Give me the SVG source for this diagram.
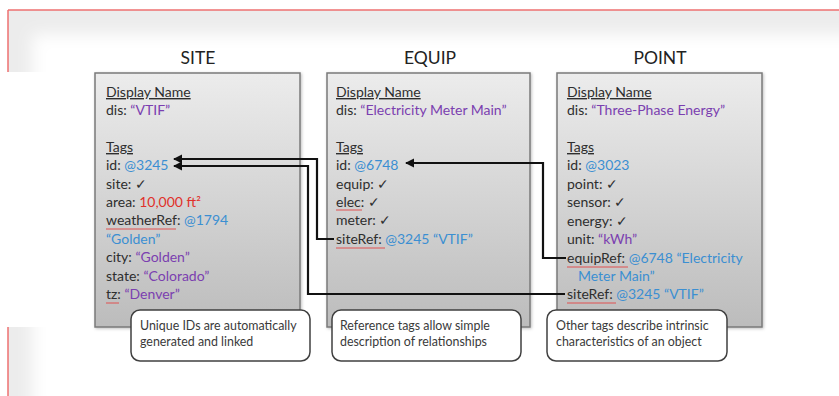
<svg xmlns="http://www.w3.org/2000/svg" width="839" height="396" viewBox="0 0 839 396">
<defs>
<style>
text{font-family:Lato,"Open Sans","Liberation Sans",sans-serif;fill:#2e2e2e;}
.ttl{font-size:17.5px;text-anchor:middle;fill:#222;}
.t{font-size:14px;}
.c{font-size:12.4px;fill:#3a3a3a;}
.u{text-decoration:underline;}
.p{fill:#7b3fb0;}
.b{fill:#3b8fd2;}
.r{fill:#e0302a;}
.box{fill:url(#g);stroke:#7a7a7a;stroke-width:1.5;filter:url(#sh);}
.call{fill:#fff;stroke:#404040;stroke-width:1.5;}
.sq{stroke:#e05050;stroke-width:1;fill:none;}
.con{fill:none;stroke:#111;stroke-width:2.2;}
</style>
<linearGradient id="g" x1="0" y1="0" x2="0" y2="1">
<stop offset="0" stop-color="#ececec"/>
<stop offset="1" stop-color="#bcbcbc"/>
</linearGradient>
<filter id="blur" x="-10%" y="-10%" width="120%" height="120%"><feGaussianBlur stdDeviation="8"/></filter>
<filter id="sh" x="-5%" y="-5%" width="110%" height="110%"><feDropShadow dx="1" dy="1" stdDeviation="1.5" flood-color="#000" flood-opacity="0.25"/></filter>
<marker id="ah" viewBox="0 0 10 10" refX="9" refY="5" markerWidth="4.2" markerHeight="4.2" orient="auto">
<path d="M0,0 L10,5 L0,10 Z" fill="#111"/>
</marker>
</defs>

<g id="background">
<rect x="0" y="0" width="839" height="396" fill="#fff"/>
<rect x="8" y="10" width="831" height="386" fill="#ececec"/>
<rect x="32" y="34" width="830" height="380" fill="#fff" filter="url(#blur)"/>
<rect x="0" y="72" width="839" height="255" fill="#fff"/>
<line x1="8" y1="10" x2="839" y2="10" stroke="#ee7070" stroke-width="1.5"/>
<line x1="8" y1="10" x2="8" y2="72" stroke="#ee7070" stroke-width="1.5"/>
<line x1="8" y1="327" x2="8" y2="396" stroke="#ee7070" stroke-width="1.5"/>
</g>

<g id="site">
<text class="ttl" x="198" y="64">SITE</text>
<rect class="box" x="95" y="73" width="205" height="254"/>
<text class="t u" x="106" y="97">Display Name</text>
<text class="t" x="106" y="115">dis: <tspan class="p">“VTIF”</tspan></text>
<text class="t u" x="106" y="152">Tags</text>
<text class="t" x="106" y="170">id: <tspan class="b">@3245</tspan></text>
<text class="t" x="106" y="189">site: ✓</text>
<text class="t" x="106" y="207">area: <tspan class="r">10,000 ft²</tspan></text>
<text class="t" x="106" y="225">weatherRef: <tspan class="b">@1794</tspan></text>
<text class="t b" x="106" y="244">“Golden”</text>
<text class="t" x="106" y="262">city: <tspan class="p">“Golden”</tspan></text>
<text class="t" x="106" y="281">state: <tspan class="p">“Colorado”</tspan></text>
<text class="t" x="106" y="299">tz: <tspan class="p">“Denver”</tspan></text>
<line class="sq" x1="106" y1="229" x2="176" y2="229"/>
<line class="sq" x1="106" y1="303" x2="119" y2="303"/>
</g>

<g id="equip">
<text class="ttl" x="430" y="64">EQUIP</text>
<rect class="box" x="327" y="73" width="203" height="254"/>
<text class="t u" x="336" y="97">Display Name</text>
<text class="t" x="336" y="115">dis: <tspan class="p">“Electricity Meter Main”</tspan></text>
<text class="t u" x="336" y="152">Tags</text>
<text class="t" x="336" y="170">id: <tspan class="b">@6748</tspan></text>
<text class="t" x="336" y="189">equip: ✓</text>
<text class="t" x="336" y="207">elec: ✓</text>
<text class="t" x="336" y="225">meter: ✓</text>
<text class="t" x="336" y="244">siteRef: <tspan class="b">@3245 “VTIF”</tspan></text>
<line class="sq" x1="336" y1="210" x2="362" y2="210"/>
<line class="sq" x1="336" y1="248" x2="385" y2="248"/>
</g>

<g id="point">
<text class="ttl" x="660" y="64">POINT</text>
<rect class="box" x="557" y="73" width="205" height="254"/>
<text class="t u" x="567" y="97">Display Name</text>
<text class="t" x="567" y="115">dis: <tspan class="p">“Three-Phase Energy”</tspan></text>
<text class="t u" x="567" y="152">Tags</text>
<text class="t" x="567" y="170">id: <tspan class="b">@3023</tspan></text>
<text class="t" x="567" y="189">point: ✓</text>
<text class="t" x="567" y="207">sensor: ✓</text>
<text class="t" x="567" y="226">energy: ✓</text>
<text class="t" x="567" y="244">unit: <tspan class="p">“kWh”</tspan></text>
<text class="t" x="567" y="263">equipRef: <tspan class="b">@6748 “Electricity</tspan></text>
<text class="t b" x="578" y="281">Meter Main”</text>
<text class="t" x="567" y="299">siteRef: <tspan class="b">@3245 “VTIF”</tspan></text>
<line class="sq" x1="567" y1="267" x2="628" y2="267"/>
<line class="sq" x1="567" y1="303" x2="616" y2="303"/>
</g>

<g id="connectors">
<path class="con" d="M334,239 H317 V159 H174" marker-end="url(#ah)"/>
<path class="con" d="M565,294 H308 V166 H174" marker-end="url(#ah)"/>
<path class="con" d="M566,258 H543 V163 H406" marker-end="url(#ah)"/>
</g>

<g id="note-ids">
<rect class="call" x="131" y="310" width="179" height="51" rx="9"/>
<text class="c" x="140" y="330">Unique IDs are automatically</text>
<text class="c" x="140" y="346">generated and linked</text>
</g>
<g id="note-refs">
<rect class="call" x="332" y="310" width="189" height="51" rx="9"/>
<text class="c" x="340" y="330">Reference tags allow simple</text>
<text class="c" x="340" y="346">description of relationships</text>
</g>
<g id="note-other">
<rect class="call" x="547" y="310" width="180" height="51" rx="9"/>
<text class="c" x="556" y="330">Other tags describe intrinsic</text>
<text class="c" x="556" y="346">characteristics of an object</text>
</g>
</svg>
